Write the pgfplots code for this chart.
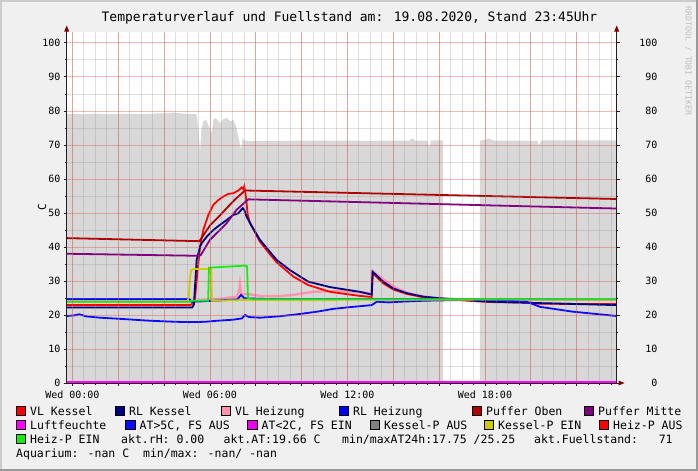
\documentclass[border=0pt]{standalone}
\usepackage{pgfplots}
\pgfplotsset{compat=1.18}
\usepackage{fontspec}
\setmainfont{DejaVu Sans Mono}
\usetikzlibrary{arrows.meta}
\definecolor{bgc}{HTML}{F0F0F0}
\definecolor{shadea}{HTML}{CBCBCB}
\definecolor{shadeb}{HTML}{999999}
\definecolor{areac}{HTML}{D8D8D8}
\definecolor{arrowc}{HTML}{7F0000}
\definecolor{axisc}{HTML}{202020}
\definecolor{gridc}{HTML}{8F8F8F}
\definecolor{mgridc}{HTML}{DE5048}
\definecolor{cVLK}{HTML}{FF0000}
\definecolor{cRLK}{HTML}{000080}
\definecolor{cVLH}{HTML}{FF94AE}
\definecolor{cRLH}{HTML}{0000FF}
\definecolor{cPO}{HTML}{B00000}
\definecolor{cPM}{HTML}{800080}
\definecolor{cLF}{HTML}{FF00FF}
\definecolor{cAT}{HTML}{0A0AFF}
\definecolor{cATk}{HTML}{EE00EE}
\definecolor{cKA}{HTML}{808080}
\definecolor{cKE}{HTML}{CCCC00}
\definecolor{cHA}{HTML}{FF0000}
\definecolor{cHE}{HTML}{10F010}
\newcommand\lf{\fontsize{11.5bp}{13bp}\selectfont}
\newcommand\tf{\fontsize{10bp}{12bp}\selectfont}
\newcommand\lbox[3]{\fill[#3, draw=black, line width=0.7bp] (#1bp,-#2bp) rectangle ++(9.5bp,9bp);}
\newcommand\ltext[3]{\node[anchor=base west, inner sep=0pt, font=\lf] at (#1bp,-#2bp) {#3};}
\begin{document}
\begin{tikzpicture}
\fill[bgc] (0,0) rectangle (698bp,-471bp);
\fill[shadea] (0,0) rectangle (698bp,-2bp);
\fill[shadea] (0,0) rectangle (2bp,-471bp);
\fill[shadeb] (0,-469bp) rectangle (698bp,-471bp);
\fill[shadeb] (696bp,0) rectangle (698bp,-471bp);
\begin{axis}[
  at={(66.7bp,-383bp)}, anchor=south west,
  scale only axis, width=550bp, height=351bp,
  xmin=-0.25, xmax=23.75, ymin=0, ymax=103.2,
  axis line style={draw=none},
  axis on top,
  axis background/.style={fill=white},
  /pgf/number format/assume math mode=true,
  ticklabel style={font=\tf},
  xtick={0,2,...,22},
  xticklabels={Wed 00:00,,,Wed 06:00,,,Wed 12:00,,,Wed 18:00,,},
  minor xtick={0,0.5,...,23.5},
  ytick={0,10,...,100},
  minor ytick={5,15,...,95},
  grid=both,
  major grid style={color=mgridc, opacity=0.4, line width=0.8bp},
  minor grid style={color=gridc, opacity=0.28, line width=0.8bp},
  tick align=outside,
  xtick pos=bottom, ytick pos=left,
  major tick length=3bp, minor tick length=1.5bp,
  tick style={color=axisc, line width=0.8bp},
  xticklabel style={anchor=north, inner sep=0pt, yshift=-4.5bp},
  yticklabel style={anchor=east, inner sep=0pt, xshift=-3bp},
]
% Fuellstand area
\addplot[fill=areac, draw=none] coordinates {
(-0.25,79.1) (0.5,79.0) (1.0,79.2) (1.5,79.0) (2.0,79.1) (2.5,79.2) (3.0,79.0)
(3.5,79.2) (4.0,79.3) (4.4,79.5) (4.8,79.2) (5.2,79.1) (5.42,79.0) (5.49,75.0)
(5.57,67.5) (5.62,74.0) (5.71,76.9) (5.82,77.5) (5.96,75.4) (6.08,73.4) (6.15,77.4)
(6.25,77.9) (6.44,76.4) (6.58,77.5) (6.73,77.9) (6.88,76.9) (7.02,77.4) (7.14,75.4)
(7.24,72.4) (7.36,68.5) (7.43,72.0) (7.53,71.2) (9,71.2) (11,71.3) (13,71.2)
(14.7,71.3) (14.83,72.0) (14.95,71.3) (15.5,71.2) (15.57,69.1) (15.65,71.3) (16.16,71.3)
} \closedcycle;
\addplot[fill=areac, draw=none] coordinates {
(17.78,71.2) (18.2,71.8) (18.4,71.3) (20.3,71.2) (20.35,69.8) (20.45,71.3) (23.75,71.3)
} \closedcycle;
% VL Heizung
\addplot[cVLH, line width=2.4bp] coordinates {
(-0.25,24.0) (5.14,24.0) (5.5,24.2) (6.5,24.8) (7.17,25.4) (7.27,27.0) (7.31,29.1)
(7.36,26.5) (7.42,26.0) (7.6,26.2) (8.18,25.6) (9.0,25.5) (9.64,25.9) (10.5,26.8)
(11.7,27.1) (13.06,26.4) (13.10,32.9) (13.56,30.5) (14.0,28.3) (14.59,26.6)
(15.31,25.4) (16.04,24.9) (17,24.6) (23.75,24.6)};
% VL Kessel
\addplot[cVLK, line width=1.8bp] coordinates {
(-0.25,22.9) (5.14,22.9) (5.28,23.5) (5.35,24.9) (5.45,32.3) (5.57,40.1) (5.71,45.0)
(5.93,49.4) (6.15,52.4) (6.37,53.8) (6.58,54.8) (6.80,55.6) (7.02,55.8) (7.24,56.6)
(7.39,57.5) (7.46,57.0) (7.50,57.8) (7.57,54.8) (7.65,49.4) (7.75,47.0) (8.18,41.6)
(8.55,38.4) (8.91,35.5) (9.64,31.3) (10.29,28.8) (11.24,26.8) (12.55,25.6) (13.06,25.3)
(13.10,32.3) (13.56,29.3) (14.0,27.5) (14.59,26.2) (15.31,25.2) (16.04,24.8) (17.0,24.3)
(18.22,23.8) (20.0,23.6) (20.3,23.3) (23.75,23.2)};
% RL Kessel
\addplot[cRLK, line width=1.8bp] coordinates {
(-0.25,22.2) (5.22,22.2) (5.30,23.0) (5.42,36.2) (5.57,40.1) (5.64,41.1) (5.86,43.0)
(6.15,45.0) (6.44,46.5) (6.73,47.9) (7.02,49.4) (7.24,49.9) (7.43,51.4) (7.50,50.9)
(7.60,48.9) (7.82,46.2) (8.18,42.1) (8.55,39.1) (8.91,36.2) (9.49,33.2) (10.29,29.8)
(11.24,28.2) (12.55,26.8) (13.06,26.0) (13.10,32.7) (13.56,29.8) (14.0,27.8)
(14.59,26.4) (15.31,25.4) (16.04,24.9) (18.22,23.9) (19.82,23.6) (23.75,22.9)};
% RL Heizung
\addplot[cRLH, line width=1.8bp] coordinates {
(-0.25,24.7) (5.1,24.7) (5.2,23.9) (5.6,24.0) (6.5,24.3) (7.2,24.6) (7.36,25.9)
(7.5,24.9) (8.5,24.7) (23.75,24.6)};
% Puffer Oben
\addplot[cPO, line width=1.8bp] coordinates {
(-0.25,42.6) (5.54,41.7) (5.75,43.8) (6.0,46.3) (6.4,49.0) (6.73,51.4) (7.1,54.0)
(7.53,56.6) (23.75,54.1)};
% Puffer Mitte
\addplot[cPM, line width=1.8bp] coordinates {
(-0.25,38.0) (5.5,37.4) (5.6,37.6) (6.0,42.1) (6.73,47.0) (7.16,50.9) (7.67,54.0)
(23.75,51.3)};
% Luftfeuchte
\addplot[cLF, line width=2bp] coordinates {(-0.25,0.3) (23.75,0.3)};
% AT
\addplot[cAT, line width=1.8bp] coordinates {
(-0.25,19.7) (0.1,19.9) (0.3,20.2) (0.6,19.6) (1.2,19.2) (2.0,18.9) (3.4,18.3)
(4.5,18.0) (5.1,17.9) (5.8,18.0) (6.3,18.3) (7.0,18.6) (7.4,19.0) (7.53,20.0)
(7.7,19.4) (8.18,19.2) (9.0,19.6) (9.93,20.3) (10.7,21.0) (11.38,21.8) (12.1,22.3)
(13.06,22.9) (13.28,23.9) (13.8,23.7) (14.3,23.9) (15.4,24.2) (17,24.4) (18.2,24.4)
(19.82,23.9) (20.4,22.4) (21.8,21.0) (23.75,19.7)};
% Kessel-P EIN
\addplot[cKE, line width=1.8bp] coordinates {
(-0.25,23.9) (5.03,23.9) (5.08,26.0) (5.13,31.0) (5.18,33.2) (5.3,33.5) (6.06,33.5)
(6.08,24.2) (7.6,24.4) (23.75,24.6)};
% Heiz-P EIN
\addplot[cHE, line width=1.8bp] coordinates {
(-0.25,23.9) (5.1,23.9) (5.2,24.2) (5.92,24.2) (5.96,33.9) (7.53,34.5) (7.62,34.3)
(7.66,25.0) (7.82,24.6) (23.75,24.6)};
\end{axis}
\begin{axis}[
  at={(66.7bp,-383bp)}, anchor=south west,
  scale only axis, width=550bp, height=351bp,
  xmin=-0.25, xmax=23.75, ymin=0, ymax=103.2,
  axis x line=none, axis y line*=right,
  axis line style={draw=none},
  /pgf/number format/assume math mode=true,
  ticklabel style={font=\tf},
  ytick={0,10,...,100},
  minor ytick={5,15,...,95},
  tick align=outside,
  major tick length=3bp, minor tick length=1.5bp,
  tick style={color=axisc, line width=0.8bp},
  yticklabel style={anchor=east, inner sep=0pt, xshift=38bp},
]
\addplot[draw=none] coordinates {(0,0)};
\end{axis}
% axis lines and arrows
\draw[axisc, line width=1bp] (66.7bp,-383bp) -- (66.7bp,-31bp);
\draw[axisc, line width=1bp] (616.7bp,-383bp) -- (616.7bp,-31bp);
\draw[axisc, line width=1bp] (63.7bp,-383bp) -- (619bp,-383bp);
\fill[arrowc] (64.2bp,-31.5bp) -- (69.2bp,-31.5bp) -- (66.7bp,-25.5bp) -- cycle;
\fill[arrowc] (614.2bp,-31.5bp) -- (619.2bp,-31.5bp) -- (616.7bp,-25.5bp) -- cycle;
\fill[arrowc] (618.5bp,-380.5bp) -- (618.5bp,-385.5bp) -- (624.5bp,-383bp) -- cycle;
% title, labels
\node[anchor=base, inner sep=0pt, font=\fontsize{13bp}{15bp}\selectfont] at (349.5bp,-21bp)
  {Temperaturverlauf und Fuellstand am: 19.08.2020, Stand 23:45Uhr};
\node[rotate=90, inner sep=0pt, font=\fontsize{11bp}{13bp}\selectfont] at (42bp,-207bp) {C};
\node[rotate=-90, inner sep=0pt, text=black!25, font=\fontsize{8.2bp}{9bp}\selectfont] at (688.3bp,-61bp) {RRDTOOL / TOBI OETIKER};
% legend row 1
\lbox{16}{415}{cVLK}\ltext{30}{415}{VL Kessel}
\lbox{115}{415}{cRLK}\ltext{129}{415}{RL Kessel}
\lbox{221}{415}{cVLH}\ltext{235}{415}{VL Heizung}
\lbox{339}{415}{cRLH}\ltext{353}{415}{RL Heizung}
\lbox{472}{415}{cPO}\ltext{486}{415}{Puffer Oben}
\lbox{584}{415}{cPM}\ltext{598}{415}{Puffer Mitte}
% row 2
\lbox{16}{429.5}{cLF}\ltext{30}{429.5}{Luftfeuchte}
\lbox{125.5}{429.5}{cAT}\ltext{139.5}{429.5}{AT>5C, FS AUS}
\lbox{247.5}{429.5}{cATk}\ltext{261.5}{429.5}{AT<2C, FS EIN}
\lbox{370}{429.5}{cKA}\ltext{384}{429.5}{Kessel-P AUS}
\lbox{484}{429.5}{cKE}\ltext{498}{429.5}{Kessel-P EIN}
\lbox{599}{429.5}{cHA}\ltext{613}{429.5}{Heiz-P AUS}
% row 3
\lbox{16}{443.5}{cHE}\ltext{30}{443.5}{Heiz-P EIN}
\ltext{121}{443.5}{akt.rH: 0.00}
\ltext{223.5}{443.5}{akt.AT:19.66 C}
\ltext{342}{443.5}{min/maxAT24h:17.75 /25.25}
\ltext{534}{443.5}{akt.Fuellstand:\ \ \ 71}
% row 4
\ltext{16}{457.5}{Aquarium: -nan C\ \ min/max: -nan/ -nan}
\end{tikzpicture}
\end{document}
